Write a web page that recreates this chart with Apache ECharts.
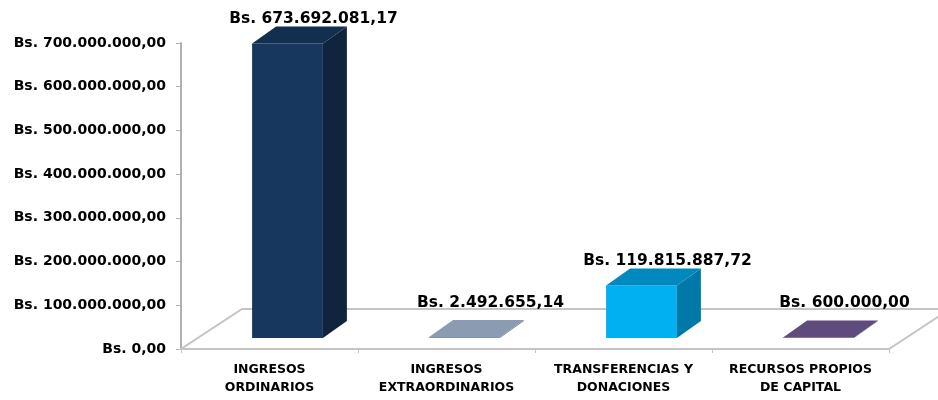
<!DOCTYPE html>
<html>
<head>
<meta charset="utf-8">
<script src="https://cdn.jsdelivr.net/npm/echarts@6/dist/echarts.min.js"></script>
<style>
    html, body { margin: 0; padding: 0; background: #fff; }
    #chart { width: 938px; height: 400px; }
</style>
</head>
<body>
<div id="chart"></div>
<script>
    // data
    var categories = ['INGRESOS\nORDINARIOS', 'INGRESOS\nEXTRAORDINARIOS', 'TRANSFERENCIAS Y\nDONACIONES', 'RECURSOS PROPIOS\nDE CAPITAL'];
    var values = [673692081.17, 2492655.14, 119815887.72, 600000.00];
    var yMin = 0;
    var yMax = 700000000;
    var yStep = 100000000;

    var faceColors = [
        { front: '#17375e', side: '#10243d', top: '#132f50' },
        { front: '#8497b0', side: '#6d7f96', top: '#8b9bb1' },
        { front: '#00b0f0', side: '#0079a8', top: '#0089bf' },
        { front: '#60497a', side: '#4a385e', top: '#5f4b7c' }
    ];

    // depth of floor and bars
    var floorDx = 61, floorDy = -40;
    var barDx = 18, barDy = -11;
    var depthDx = 24, depthDy = -17;

    function fmtBs(v) {
        var parts = v.toFixed(2).split('.');
        var ent = parts[0].replace(/\B(?=(\d{3})+(?!\d))/g, '.');
        return 'Bs. ' + ent + ',' + parts[1];
    }

    function renderFloor(params, api) {
        var cs = params.coordSys;
        var x0 = cs.x, x1 = cs.x + cs.width, yb = cs.y + cs.height;
        return {
            type: 'polygon',
            shape: { points: [[x0, yb], [x1, yb], [x1 + floorDx, yb + floorDy], [x0 + floorDx, yb + floorDy]] },
            style: { fill: '#ffffff', stroke: '#c4c4c4', lineWidth: 2 }
        };
    }

    function renderBar(params, api) {
        var i = api.value(0);
        var base = api.coord([i, 0]);
        var top = api.coord([i, api.value(1)]);
        var w = api.size([1, 0])[0] * 0.4;
        var c = faceColors[i];
        var fx = base[0] - w / 2 + barDx;
        var fy0 = base[1] + barDy;
        var fy1 = Math.min(top[1] + barDy, fy0 - 0.5);
        var floorBack = params.coordSys.y + params.coordSys.height + floorDy;
        var labelY = Math.min(fy1 - 25, floorBack - 6);
        return {
            type: 'group',
            children: [
                {
                    type: 'rect',
                    shape: { x: fx, y: fy1, width: w, height: fy0 - fy1 },
                    style: { fill: c.front }
                },
                {
                    type: 'polygon',
                    shape: { points: [[fx + w, fy1], [fx + w + depthDx, fy1 + depthDy], [fx + w + depthDx, fy0 + depthDy], [fx + w, fy0]] },
                    style: { fill: c.side }
                },
                {
                    type: 'polygon',
                    shape: { points: [[fx, fy1], [fx + depthDx, fy1 + depthDy], [fx + w + depthDx, fy1 + depthDy], [fx + w, fy1]] },
                    style: { fill: c.top }
                },
                {
                    type: 'text',
                    style: {
                        text: fmtBs(api.value(1)),
                        x: fx + w / 2 + depthDx + 2,
                        y: labelY,
                        align: 'center',
                        verticalAlign: 'middle',
                        fontFamily: 'DejaVu Sans',
                        fontWeight: 'bold',
                        fontSize: 15.5,
                        fill: '#000'
                    }
                }
            ]
        };
    }

    var barData = values.map(function (v, i) { return [i, v]; });

    var chart = echarts.init(document.getElementById('chart'));
    var option = {
        animation: false,
        grid: { left: 181, right: 49, top: 43, bottom: 51 },
        xAxis: {
            type: 'category',
            data: categories,
            axisLine: { lineStyle: { color: '#c4c4c4', width: 2 } },
            axisTick: { show: true, length: 4, lineStyle: { color: '#c4c4c4', width: 1 } },
            axisLabel: {
                interval: 0,
                margin: 12,
                color: '#000',
                fontFamily: 'DejaVu Sans',
                fontWeight: 'bold',
                fontSize: 12.5,
                lineHeight: 18
            },
            z: 3
        },
        yAxis: {
            type: 'value',
            min: yMin,
            max: yMax,
            interval: yStep,
            axisLine: { show: true, lineStyle: { color: '#b0b0b0', width: 2 } },
            axisTick: { show: true, length: 5, lineStyle: { color: '#b0b0b0', width: 1 } },
            splitLine: { show: false },
            axisLabel: {
                formatter: fmtBs,
                margin: 15,
                color: '#000',
                fontFamily: 'DejaVu Sans',
                fontWeight: 'bold',
                fontSize: 14
            }
        },
        series: [
            {
                type: 'custom',
                renderItem: renderFloor,
                data: [[0, 0]],
                z: 1,
                silent: true
            },
            {
                type: 'custom',
                renderItem: renderBar,
                data: barData,
                z: 4
            }
        ]
    };
    chart.setOption(option);
</script>
</body>
</html>
